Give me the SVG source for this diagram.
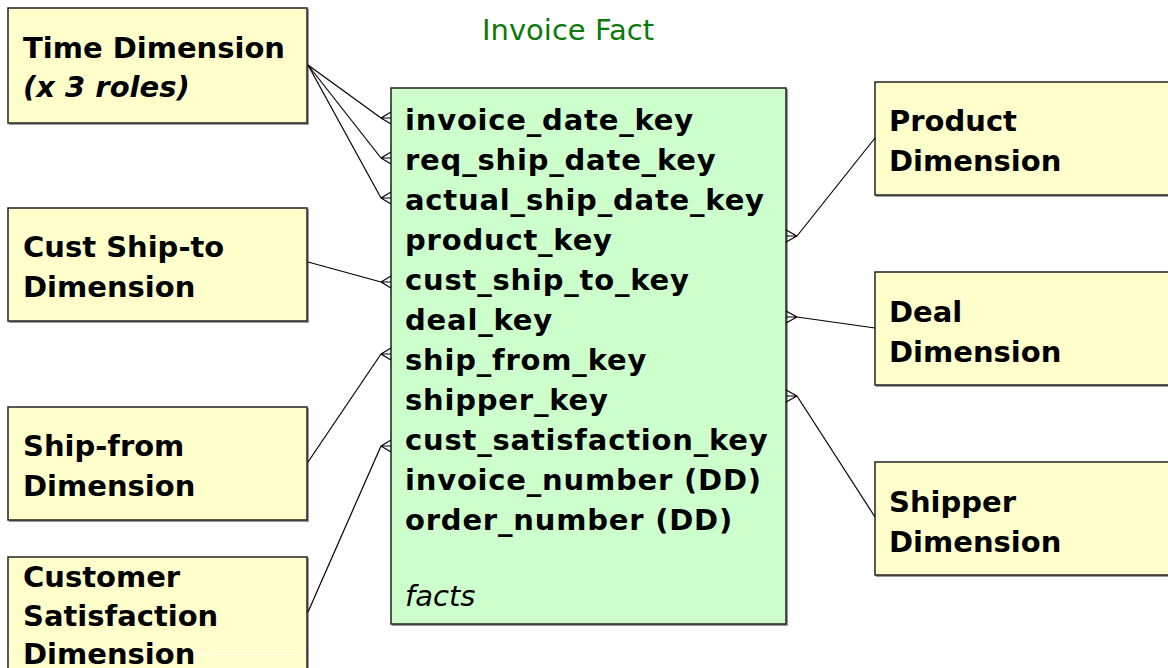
<svg xmlns="http://www.w3.org/2000/svg" width="1168" height="668" viewBox="0 0 1168 668">
  <style>
    .dim { fill: #FFFFCC; stroke: #222; stroke-width: 1.5; }
    .fact { fill: #CCFFCC; stroke: #222; stroke-width: 1.5; }
    .shadow { fill: #9a9a9a; }
    .lbl { font-family: "DejaVu Sans", sans-serif; font-weight: bold; font-size: 29px; fill: #000; }
    .key { letter-spacing: 0.8px; }
    .ital { font-style: italic; }
    .title { font-family: "DejaVu Sans", sans-serif; font-size: 29px; fill: #0b7a0b; }
    .facts { font-family: "DejaVu Sans", sans-serif; font-style: italic; font-size: 29px; fill: #000; }
    .conn line { stroke: #000; stroke-width: 1.2; fill: none; }
  </style>
  <defs>
    <!-- crow's foot pointing into the fact table from the left -->
    <path id="footL" d="M -10 0 L 0 -6 M -10 0 L 0 0 M -10 0 L 0 6" stroke="#000" stroke-width="1.2" fill="none"/>
    <!-- crow's foot pointing into the fact table from the right -->
    <path id="footR" d="M 11 0 L 0 -6 M 11 0 L 0 0 M 11 0 L 0 6" stroke="#000" stroke-width="1.2" fill="none"/>
  </defs>

  <rect width="1168" height="668" fill="#fff"/>

  <text class="title" x="482" y="40">Invoice Fact</text>

  <g id="time-dim">
    <rect class="shadow" x="9" y="9" width="300" height="116"/>
    <rect class="dim" x="8" y="8" width="299" height="115"/>
    <text class="lbl" x="23" y="58">Time Dimension</text>
    <text class="lbl ital" x="23" y="97">(x 3 roles)</text>
  </g>

  <g id="cust-ship-to-dim">
    <rect class="shadow" x="9" y="209" width="300" height="114"/>
    <rect class="dim" x="8" y="208" width="299" height="113"/>
    <text class="lbl" x="23" y="257">Cust Ship-to</text>
    <text class="lbl" x="23" y="297">Dimension</text>
  </g>

  <g id="ship-from-dim">
    <rect class="shadow" x="9" y="408" width="300" height="114"/>
    <rect class="dim" x="8" y="407" width="299" height="113"/>
    <text class="lbl" x="23" y="456">Ship-from</text>
    <text class="lbl" x="23" y="496">Dimension</text>
  </g>

  <g id="cust-satisfaction-dim">
    <rect class="shadow" x="9" y="558" width="300" height="120"/>
    <rect class="dim" x="8" y="557" width="299" height="120"/>
    <line x1="9" y1="654.5" x2="305" y2="654.5" stroke="#fff" stroke-width="1" opacity="0.8"/>
    <text class="lbl" x="23" y="587">Customer</text>
    <text class="lbl" x="23" y="626">Satisfaction</text>
    <text class="lbl" x="23" y="664">Dimension</text>
  </g>

  <g id="invoice-fact">
    <rect class="shadow" x="392" y="89" width="396" height="537"/>
    <rect class="fact" x="391" y="88" width="395" height="536"/>
    <text class="lbl key" x="405" y="130">invoice_date_key</text>
    <text class="lbl key" x="405" y="170">req_ship_date_key</text>
    <text class="lbl key" x="405" y="210">actual_ship_date_key</text>
    <text class="lbl key" x="405" y="250">product_key</text>
    <text class="lbl key" x="405" y="290">cust_ship_to_key</text>
    <text class="lbl key" x="405" y="330">deal_key</text>
    <text class="lbl key" x="405" y="370">ship_from_key</text>
    <text class="lbl key" x="405" y="410">shipper_key</text>
    <text class="lbl key" x="405" y="450">cust_satisfaction_key</text>
    <text class="lbl key" x="405" y="490">invoice_number (DD)</text>
    <text class="lbl key" x="405" y="530">order_number (DD)</text>
    <text class="facts" x="405" y="606">facts</text>
  </g>

  <g id="product-dim">
    <rect class="shadow" x="876" y="83" width="300" height="114"/>
    <rect class="dim" x="875" y="82" width="300" height="113"/>
    <text class="lbl" x="889" y="131">Product</text>
    <text class="lbl" x="889" y="171">Dimension</text>
  </g>

  <g id="deal-dim">
    <rect class="shadow" x="876" y="273" width="300" height="114"/>
    <rect class="dim" x="875" y="272" width="300" height="113"/>
    <text class="lbl" x="889" y="322">Deal</text>
    <text class="lbl" x="889" y="362">Dimension</text>
  </g>

  <g id="shipper-dim">
    <rect class="shadow" x="876" y="463" width="300" height="114"/>
    <rect class="dim" x="875" y="462" width="300" height="113"/>
    <text class="lbl" x="889" y="512">Shipper</text>
    <text class="lbl" x="889" y="552">Dimension</text>
  </g>

  <g id="connectors" class="conn">
    <line x1="308" y1="65" x2="381" y2="118"/>
    <line x1="308" y1="65" x2="381" y2="158"/>
    <line x1="308" y1="65" x2="381" y2="198"/>
    <line x1="308" y1="262" x2="381" y2="282"/>
    <line x1="308" y1="462" x2="381" y2="354"/>
    <line x1="308" y1="612" x2="381" y2="446"/>
    <use href="#footL" transform="translate(391 118)"/>
    <use href="#footL" transform="translate(391 158)"/>
    <use href="#footL" transform="translate(391 198)"/>
    <use href="#footL" transform="translate(391 282)"/>
    <use href="#footL" transform="translate(391 354)"/>
    <use href="#footL" transform="translate(391 446)"/>

    <line x1="797" y1="236" x2="875" y2="138"/>
    <line x1="797" y1="317" x2="875" y2="328"/>
    <line x1="797" y1="396" x2="875" y2="517"/>
    <use href="#footR" transform="translate(786 236)"/>
    <use href="#footR" transform="translate(786 317)"/>
    <use href="#footR" transform="translate(786 396)"/>
  </g>
</svg>
